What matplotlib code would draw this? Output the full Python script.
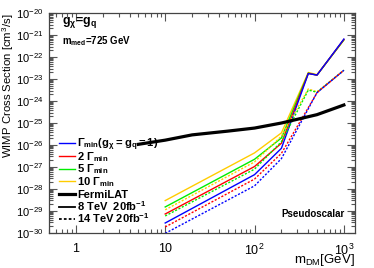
import matplotlib
matplotlib.use('Agg')
import matplotlib.pyplot as plt
import matplotlib.ticker as mticker
import numpy as np

plt.rcParams['font.family'] = ['Liberation Sans', 'DejaVu Sans']
plt.rcParams['mathtext.default'] = 'regular'

# dark matter masses [GeV]
masses = [10, 100, 200, 400, 500, 1000]

# log10 of <sigma v> limits, 8 TeV 20 fb-1 (solid)
s8_g1 = [-29.55, -27.35, -26.15, -22.75, -22.82, -21.18]
s8_g2 = [-29.14, -26.98, -25.92, -22.74, -22.82, -21.20]
s8_g5 = [-28.82, -26.65, -25.68, -22.73, -22.82, -21.22]
s8_g10 = [-28.53, -26.36, -25.45, -22.70, -22.80, -21.22]

# 14 TeV 20 fb-1 (dashed)
s14_g1 = [-30.02, -27.86, -26.62, -24.35, -23.62, -22.60]
s14_g2 = [-29.73, -27.55, -26.38, -24.30, -23.62, -22.60]
s14_g5 = [-29.23, -27.10, -25.85, -23.50, -23.60, -22.60]
s14_g10 = [-28.95, -26.77, -25.60, -23.45, -23.58, -22.60]

# FermiLAT limit
fermi_m = [5, 10, 20, 50, 100, 200, 500, 1000]
fermi_s = [-25.97, -25.78, -25.54, -25.37, -25.23, -25.00, -24.62, -24.18]

colors = ['#0000ff', '#ff0000', '#00ee00', '#ffcc00']
labels = [r'$\Gamma_{min}(g_{\chi}=g_{q}=1)$', r'2 $\Gamma_{min}$',
          r'5 $\Gamma_{min}$', r'10 $\Gamma_{min}$']

fig = plt.figure(figsize=(3.74, 2.68), dpi=100)
ax = fig.add_axes([0.131, 0.131, 0.818, 0.820])

for s, c in zip([s8_g1, s8_g2, s8_g5, s8_g10][::-1], colors[::-1]):
    ax.plot(masses, 10.0 ** np.array(s), color=c, lw=1.0)
for s, c in zip([s14_g1, s14_g2, s14_g5, s14_g10][::-1], colors[::-1]):
    ax.plot(masses, 10.0 ** np.array(s), color=c, lw=1.0, dashes=(1.5, 1.2))
ax.plot(fermi_m, 10.0 ** np.array(fermi_s), color='black', lw=2.3)

ax.set_xscale('log')
ax.set_yscale('log')
ax.set_xlim(0.5, 1330)
ax.set_ylim(1e-30, 1e-20)

ax.xaxis.set_major_locator(mticker.FixedLocator([1, 10, 100, 1000]))
ax.xaxis.set_major_formatter(mticker.FixedFormatter(['1', '10', r'$10^{2}$', r'$10^{3}$']))
ax.xaxis.set_minor_locator(mticker.LogLocator(base=10, subs=np.arange(2, 10), numticks=20))
ax.xaxis.set_minor_formatter(mticker.NullFormatter())
ax.yaxis.set_major_locator(mticker.FixedLocator([10.0 ** e for e in range(-30, -19)]))
ax.yaxis.set_major_formatter(mticker.FixedFormatter([r'$10^{%d}$' % e for e in range(-30, -19)]))
ax.yaxis.set_minor_locator(mticker.LogLocator(base=10, subs=np.arange(2, 10), numticks=20))
ax.yaxis.set_minor_formatter(mticker.NullFormatter())

ax.tick_params(which='both', direction='in', top=True, right=True, width=0.8, color='#555555')
ax.tick_params(which='major', length=6)
ax.tick_params(which='minor', length=3)
ax.tick_params(axis='x', which='major', pad=7, labelsize=9)
ax.tick_params(axis='y', which='major', pad=4, labelsize=8)
for sp in ax.spines.values():
    sp.set_linewidth(0.9)
    sp.set_color('#444444')

ax.set_ylabel(r'WIMP Cross Section [cm$^{3}$/s]', fontsize=8.2)
ax.yaxis.set_label_coords(-0.108, 0.668)
ax.set_xlabel(r'm$_{DM}$[GeV]', fontsize=9.5, ha='right')
ax.xaxis.set_label_coords(1.0, -0.085)

ax.text(0.042, 0.99, r'g$_{\chi}$=g$_{q}$', transform=ax.transAxes, fontsize=9,
        fontweight='bold', va='top', ha='left')
ax.text(0.042, 0.875, r'm$_{med}$=725 GeV', transform=ax.transAxes, fontsize=7,
        fontweight='bold', va='center', ha='left')
ax.text(0.967, 0.086, 'Pseudoscalar', transform=ax.transAxes, fontsize=7,
        fontweight='bold', va='center', ha='right')

# legend keys drawn by hand (ROOT-style TLegend)
leg_labels = labels + ['FermiLAT', r'8 TeV  20fb$^{-1}$', r'14 TeV 20fb$^{-1}$']
leg_styles = [dict(color=c, lw=1.0) for c in colors]
leg_styles += [dict(color='black', lw=2.3), dict(color='black', lw=1.3),
               dict(color='black', lw=1.3, dashes=(1.5, 1.2))]
y0, dy = 0.409, 0.058
for i, (lab, st) in enumerate(zip(leg_labels, leg_styles)):
    y = y0 - i * dy
    ax.plot([0.033, 0.085], [y, y], transform=ax.transAxes, clip_on=False, **st)
    ax.text(0.093, y - 0.018, lab, transform=ax.transAxes, fontsize=8,
            fontweight='bold', va='baseline', ha='left')

fig.savefig('out.png', dpi=100)
